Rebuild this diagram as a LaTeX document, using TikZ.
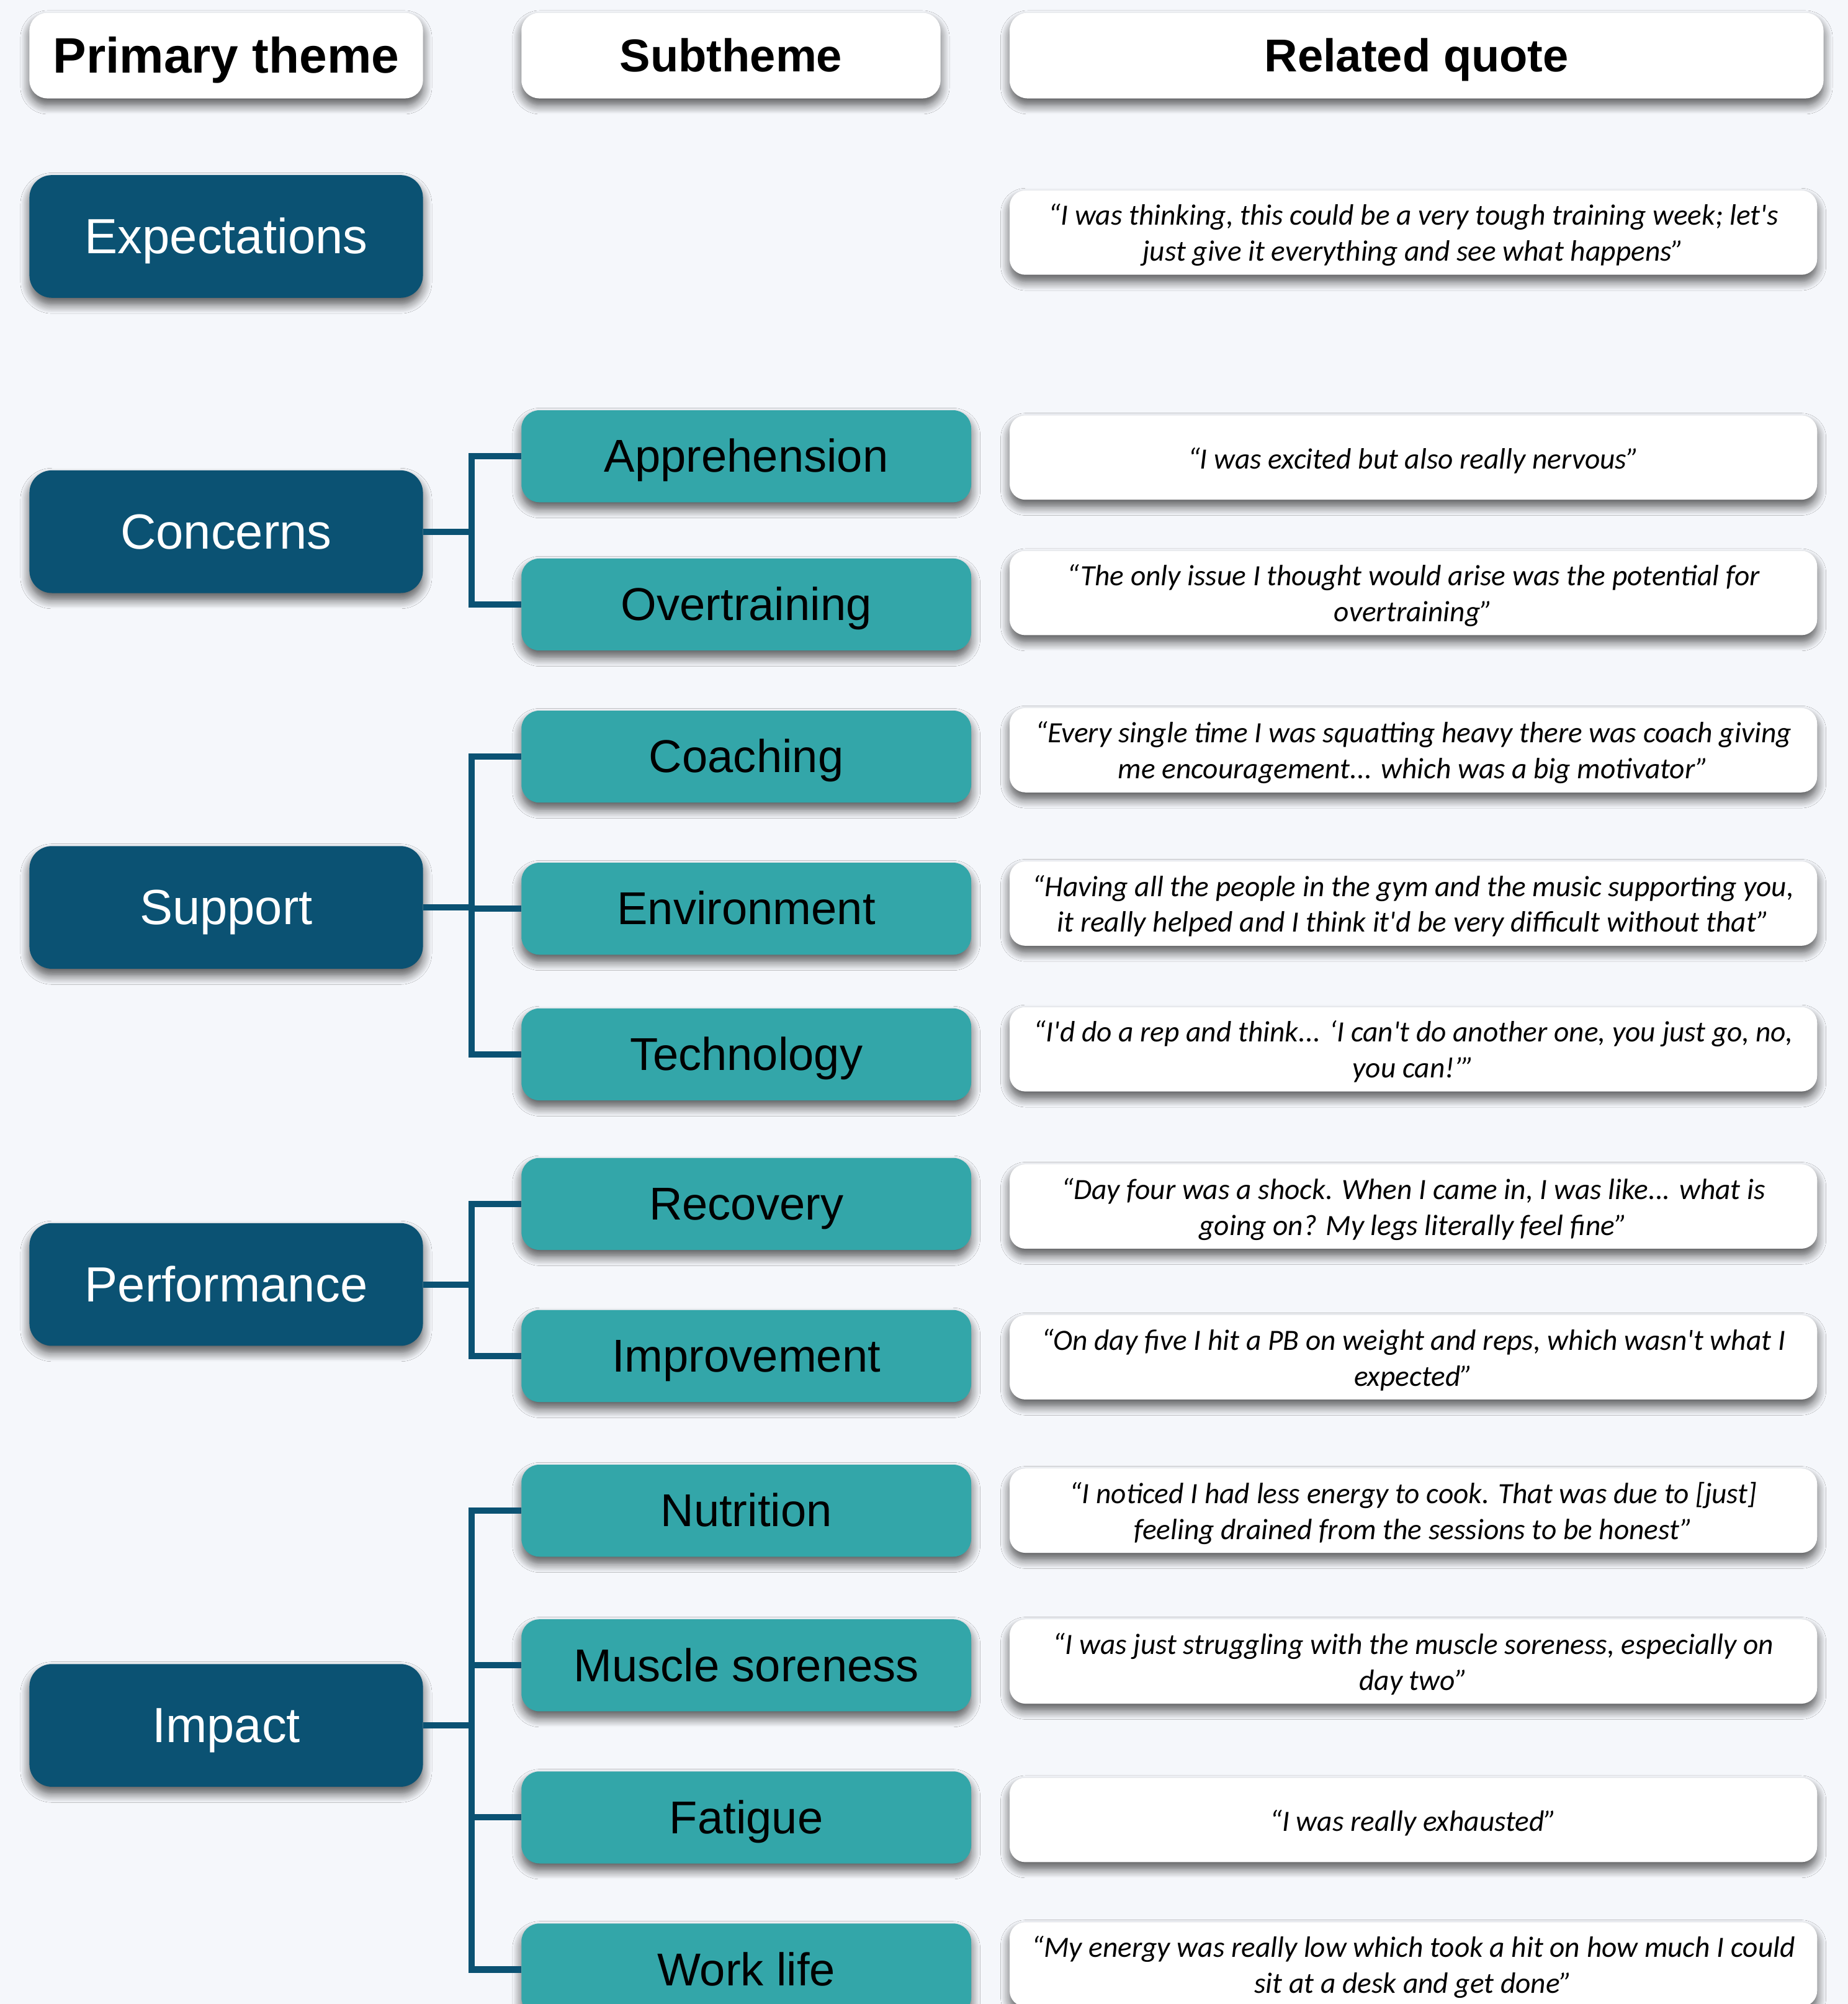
\documentclass[tikz,border=0pt]{standalone}
\usepackage{fontspec}
\setmainfont{Liberation Sans}
\newfontfamily\quotefont{Carlito}
\usetikzlibrary{shadows.blur}

\definecolor{pagebg}{HTML}{F5F7FB}
\definecolor{themeblue}{HTML}{0B5273}
\definecolor{subteal}{HTML}{33A6A9}
\newcommand{\apo}{\textquotesingle}

\tikzset{
	boxshadow/.style={blur shadow={shadow xshift=0pt,shadow yshift=-3pt,shadow blur radius=4pt,
		shadow blur steps=10,shadow opacity=65}},
	header/.style={boxshadow,fill=white,rounded corners=8pt,minimum height=1.34cm,inner sep=0pt,
		text height=14.2pt,text depth=0pt,font=\fontsize{20.5}{25}\selectfont\bfseries},
	primary/.style={boxshadow,fill=themeblue,text=white,rounded corners=10pt,minimum width=6.16cm,
		minimum height=1.92cm,inner sep=0pt,text height=15.2pt,text depth=0pt,font=\fontsize{22}{26}\selectfont},
	subtheme/.style={boxshadow,fill=subteal,rounded corners=8pt,minimum width=7.04cm,
		minimum height=1.44cm,inner sep=0pt,text height=14.2pt,text depth=0pt,font=\fontsize{20.5}{24}\selectfont},
	quotebox/.style={boxshadow,fill=white,rounded corners=7pt,minimum width=12.64cm,
		minimum height=1.32cm,inner sep=0pt,align=center,execute at begin node={\rule{0pt}{12pt}},
		font=\quotefont\itshape\fontsize{13.1}{16}\selectfont},
	twoline/.style={text depth=-0.4pt},
	link/.style={draw=themeblue,line width=2.8pt}
}

\begin{document}
\begin{tikzpicture}[x=0.02cm,y=-0.02cm]
	\fill[pagebg] (0,0) rectangle (1446,1568);
	\useasboundingbox (0,0) rectangle (1446,1568);

	% column headers
	\node[header,minimum width=6.16cm,text height=15.3pt,font=\fontsize{22.2}{26}\selectfont\bfseries] (hprimary) at (177,43.5) {Primary theme};
	\node[header,minimum width=6.56cm] (hsub) at (572,43.5) {Subtheme};
	\node[header,minimum width=12.74cm] (hquote) at (1108.5,43.5) {Related quote};

	% primary themes
	\node[primary] (expectations) at (177,185) {Expectations};
	\node[primary] (concerns) at (177,416) {Concerns};
	\node[primary] (support) at (177,710) {Support};
	\node[primary] (performance) at (177,1005) {Performance};
	\node[primary] (impact) at (177,1350) {Impact};

	% subthemes
	\node[subtheme] (apprehension) at (584,357) {Apprehension};
	\node[subtheme] (overtraining) at (584,473) {Overtraining};
	\node[subtheme] (coaching) at (584,592) {Coaching};
	\node[subtheme] (environment) at (584,711) {Environment};
	\node[subtheme] (technology) at (584,825) {Technology};
	\node[subtheme] (recovery) at (584,942) {Recovery};
	\node[subtheme] (improvement) at (584,1061) {Improvement};
	\node[subtheme] (nutrition) at (584,1182) {Nutrition};
	\node[subtheme] (soreness) at (584,1303) {Muscle soreness};
	\node[subtheme] (fatigue) at (584,1422) {Fatigue};
	\node[subtheme] (worklife) at (584,1541) {Work life};

	% quotes
	\node[quotebox,twoline] (qexpect) at (1106,182) {“I was thinking, this could be a very tough training week; let\apo s\\just give it everything and see what happens”};
	\node[quotebox] (qappr) at (1106,358) {“I was excited but also really nervous”};
	\node[quotebox,twoline] (qover) at (1106,464) {“The only issue I thought would arise was the potential for\\overtraining”};
	\node[quotebox,twoline] (qcoach) at (1106,587) {“Every single time I was squatting heavy there was coach giving\\me encouragement... which was a big motivator”};
	\node[quotebox,twoline] (qenv) at (1106,707) {“Having all the people in the gym and the music supporting you,\\it really helped and I think it\apo d be very difficult without that”};
	\node[quotebox,twoline] (qtech) at (1106,821) {“I\apo d do a rep and think... ‘I can\apo t do another one, you just go, no,\\you can!’”};
	\node[quotebox,twoline] (qrecov) at (1106,944) {“Day four was a shock. When I came in, I was like... what is\\going on? My legs literally feel fine”};
	\node[quotebox,twoline] (qimpr) at (1106,1062) {“On day five I hit a PB on weight and reps, which wasn\apo t what I\\expected”};
	\node[quotebox,twoline] (qnutr) at (1106,1182) {“I noticed I had less energy to cook. That was due to [just]\\feeling drained from the sessions to be honest”};
	\node[quotebox,twoline] (qsore) at (1106,1300) {“I was just struggling with the muscle soreness, especially on\\day two”};
	\node[quotebox] (qfatig) at (1106,1424) {“I was really exhausted”};
	\node[quotebox,twoline] (qwork) at (1106,1537) {“My energy was really low which took a hit on how much I could\\sit at a desk and get done”};

	% connectors
	\coordinate (bus) at (369,0);
	\draw[link] (concerns.east) -- (concerns.east -| bus) |- (apprehension.west);
	\draw[link] (concerns.east) -- (concerns.east -| bus) |- (overtraining.west);

	\draw[link] (support.east) -- (support.east -| bus) |- (coaching.west);
	\draw[link] (support.east) -- (support.east -| bus) |- (environment.west);
	\draw[link] (support.east) -- (support.east -| bus) |- (technology.west);

	\draw[link] (performance.east) -- (performance.east -| bus) |- (recovery.west);
	\draw[link] (performance.east) -- (performance.east -| bus) |- (improvement.west);

	\draw[link] (impact.east) -- (impact.east -| bus) |- (nutrition.west);
	\draw[link] (impact.east) -- (impact.east -| bus) |- (soreness.west);
	\draw[link] (impact.east) -- (impact.east -| bus) |- (fatigue.west);
	\draw[link] (impact.east) -- (impact.east -| bus) |- (worklife.west);
\end{tikzpicture}
\end{document}
